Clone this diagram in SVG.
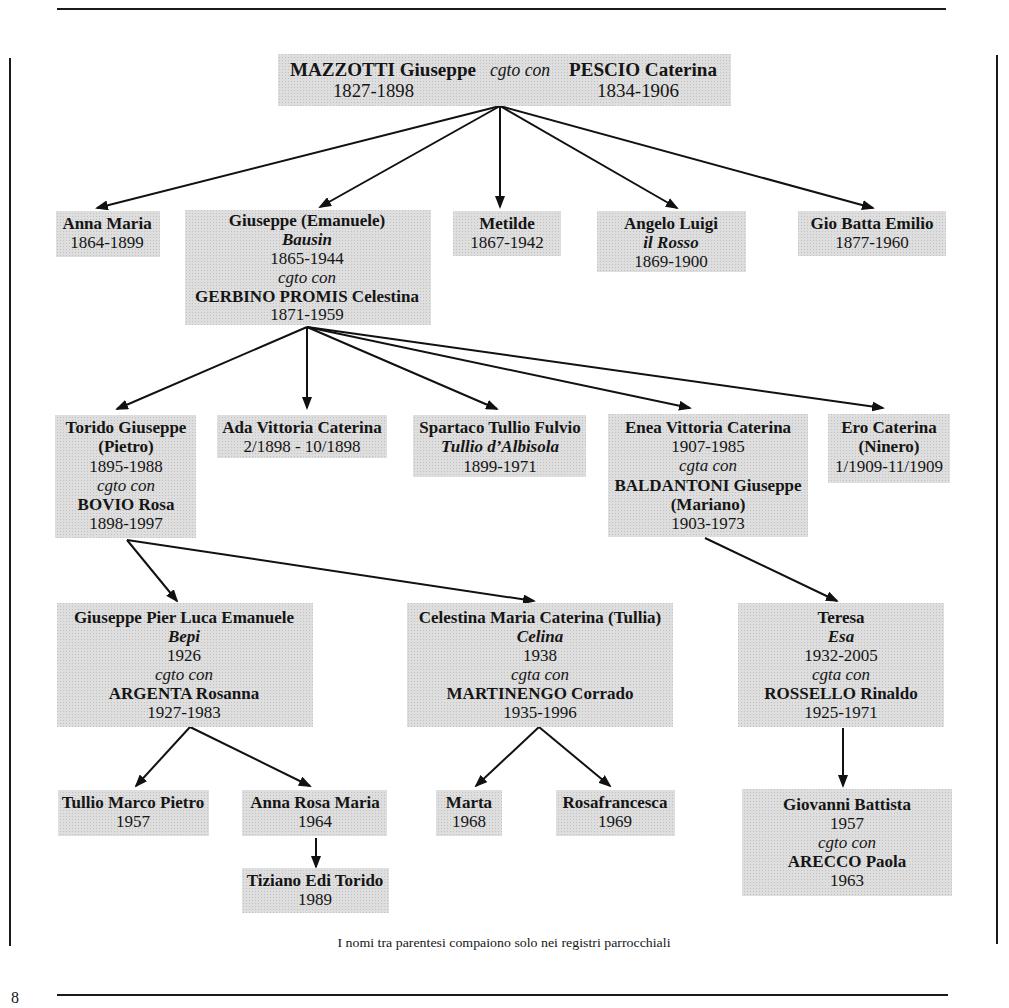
<svg xmlns="http://www.w3.org/2000/svg" width="1009" height="1008" viewBox="0 0 1009 1008">
<defs>
<pattern id="screen" width="3" height="3" patternUnits="userSpaceOnUse">
<rect width="3" height="3" fill="#dedede"/>
<rect width="1" height="1" fill="#c2c2c2"/>
</pattern>
<marker id="ah" markerUnits="userSpaceOnUse" markerWidth="13" markerHeight="10" refX="11" refY="5" orient="auto">
<path d="M0,0 L13,5 L0,10 Z" fill="#111"/>
</marker>
</defs>
<style>
.box{fill:url(#screen)}
text{font-family:"Liberation Serif","Times New Roman",serif;font-size:17px;fill:#151515;text-anchor:middle}
.b{font-weight:bold}
.i{font-style:italic}
.bi{font-weight:bold;font-style:italic}
.edge{stroke:#111;stroke-width:2;fill:none;marker-end:url(#ah)}
.rule{stroke:#1a1a1a;fill:none}
.title{font-size:18px;text-anchor:start}
</style>
<rect width="1009" height="1008" fill="#ffffff"/>
<g id="frame">
<line class="rule" x1="57" y1="9" x2="946" y2="9" stroke-width="2"/>
<line class="rule" x1="57" y1="995" x2="948" y2="995" stroke-width="2"/>
<line class="rule" x1="10" y1="58" x2="10" y2="946" stroke-width="2"/>
<line class="rule" x1="997" y1="55" x2="997" y2="944" stroke-width="2"/>
<text x="15" y="1003" style="font-size:16px">8</text>
<text x="504" y="947" style="font-size:12.5px" textLength="333" lengthAdjust="spacingAndGlyphs">I nomi tra parentesi compaiono solo nei registri parrocchiali</text>
</g>
<g id="connectors">
<line class="edge" x1="500" y1="106" x2="97" y2="208"/>
<line class="edge" x1="500" y1="106" x2="320" y2="207"/>
<line class="edge" x1="500" y1="106" x2="500" y2="207"/>
<line class="edge" x1="500" y1="106" x2="677" y2="208"/>
<line class="edge" x1="500" y1="106" x2="873" y2="208"/>
<line class="edge" x1="307" y1="327" x2="117" y2="409"/>
<line class="edge" x1="307" y1="327" x2="307" y2="408"/>
<line class="edge" x1="307" y1="327" x2="497" y2="409"/>
<line class="edge" x1="307" y1="327" x2="690" y2="408"/>
<line class="edge" x1="307" y1="327" x2="883" y2="408"/>
<line class="edge" x1="127" y1="540" x2="177" y2="601"/>
<line class="edge" x1="127" y1="540" x2="534" y2="601"/>
<line class="edge" x1="705" y1="538" x2="837" y2="601"/>
<line class="edge" x1="190" y1="727" x2="136" y2="786"/>
<line class="edge" x1="190" y1="727" x2="310" y2="786"/>
<line class="edge" x1="539" y1="727" x2="476" y2="786"/>
<line class="edge" x1="539" y1="727" x2="610" y2="786"/>
<line class="edge" x1="843" y1="728" x2="843" y2="786"/>
<line class="edge" x1="316" y1="838" x2="316" y2="867"/>
</g>
<g id="n-mazzotti">
<rect class="box" x="278" y="54" width="453" height="52"/>
<text class="b title" x="290" y="76" textLength="186" lengthAdjust="spacingAndGlyphs">MAZZOTTI Giuseppe</text>
<text class="i title" x="490" y="76" textLength="60" lengthAdjust="spacingAndGlyphs">cgto con</text>
<text class="b title" x="569" y="76" textLength="148" lengthAdjust="spacingAndGlyphs">PESCIO Caterina</text>
<text class="title" x="333" y="97" textLength="81" lengthAdjust="spacingAndGlyphs">1827-1898</text>
<text class="title" x="597" y="97" textLength="82" lengthAdjust="spacingAndGlyphs">1834-1906</text>
</g>
<g id="n-anna-maria">
<rect class="box" x="56" y="211" width="104" height="46"/>
<text class="b" x="107" y="229">Anna Maria</text>
<text x="107" y="248">1864-1899</text>
</g>
<g id="n-giuseppe-emanuele">
<rect class="box" x="185" y="210" width="246" height="115"/>
<text class="b" x="307" y="226">Giuseppe (Emanuele)</text>
<text class="bi" x="307" y="245">Bausin</text>
<text x="307" y="264">1865-1944</text>
<text class="i" x="307" y="283">cgto con</text>
<text class="b" x="307" y="302">GERBINO PROMIS Celestina</text>
<text x="307" y="320">1871-1959</text>
</g>
<g id="n-metilde">
<rect class="box" x="453" y="211" width="108" height="45"/>
<text class="b" x="507" y="229">Metilde</text>
<text x="507" y="248">1867-1942</text>
</g>
<g id="n-angelo-luigi">
<rect class="box" x="597" y="211" width="149" height="61"/>
<text class="b" x="671" y="229">Angelo Luigi</text>
<text class="bi" x="671" y="248">il Rosso</text>
<text x="671" y="267">1869-1900</text>
</g>
<g id="n-gio-batta">
<rect class="box" x="798" y="211" width="148" height="45"/>
<text class="b" x="872" y="229">Gio Batta Emilio</text>
<text x="872" y="248">1877-1960</text>
</g>
<g id="n-torido">
<rect class="box" x="55" y="415" width="141" height="123"/>
<text class="b" x="126" y="433">Torido Giuseppe</text>
<text class="b" x="126" y="452">(Pietro)</text>
<text x="126" y="472">1895-1988</text>
<text class="i" x="126" y="491">cgto con</text>
<text class="b" x="126" y="510">BOVIO Rosa</text>
<text x="126" y="529">1898-1997</text>
</g>
<g id="n-ada">
<rect class="box" x="217" y="415" width="170" height="43"/>
<text class="b" x="302" y="433">Ada Vittoria Caterina</text>
<text x="302" y="452">2/1898 - 10/1898</text>
</g>
<g id="n-spartaco">
<rect class="box" x="413" y="415" width="173" height="62"/>
<text class="b" x="500" y="433">Spartaco Tullio Fulvio</text>
<text class="bi" x="500" y="452">Tullio d’Albisola</text>
<text x="500" y="472">1899-1971</text>
</g>
<g id="n-enea">
<rect class="box" x="608" y="414" width="200" height="123"/>
<text class="b" x="708" y="433">Enea Vittoria Caterina</text>
<text x="708" y="452">1907-1985</text>
<text class="i" x="708" y="471">cgta con</text>
<text class="b" x="708" y="491">BALDANTONI Giuseppe</text>
<text class="b" x="708" y="510">(Mariano)</text>
<text x="708" y="529">1903-1973</text>
</g>
<g id="n-ero">
<rect class="box" x="828" y="414" width="122" height="69"/>
<text class="b" x="889" y="433">Ero Caterina</text>
<text class="b" x="889" y="452">(Ninero)</text>
<text x="889" y="472">1/1909-11/1909</text>
</g>
<g id="n-giuseppe-pier-luca">
<rect class="box" x="57" y="603" width="256" height="124"/>
<text class="b" x="184" y="623">Giuseppe Pier Luca Emanuele</text>
<text class="bi" x="184" y="642">Bepi</text>
<text x="184" y="661">1926</text>
<text class="i" x="184" y="680">cgto con</text>
<text class="b" x="184" y="699">ARGENTA Rosanna</text>
<text x="184" y="718">1927-1983</text>
</g>
<g id="n-celestina">
<rect class="box" x="407" y="603" width="266" height="124"/>
<text class="b" x="540" y="623">Celestina Maria Caterina (Tullia)</text>
<text class="bi" x="540" y="642">Celina</text>
<text x="540" y="661">1938</text>
<text class="i" x="540" y="680">cgta con</text>
<text class="b" x="540" y="699">MARTINENGO Corrado</text>
<text x="540" y="718">1935-1996</text>
</g>
<g id="n-teresa">
<rect class="box" x="738" y="603" width="206" height="124"/>
<text class="b" x="841" y="623">Teresa</text>
<text class="bi" x="841" y="642">Esa</text>
<text x="841" y="661">1932-2005</text>
<text class="i" x="841" y="680">cgta con</text>
<text class="b" x="841" y="699">ROSSELLO Rinaldo</text>
<text x="841" y="718">1925-1971</text>
</g>
<g id="n-tullio-marco">
<rect class="box" x="58" y="790" width="151" height="46"/>
<text class="b" x="133" y="808">Tullio Marco Pietro</text>
<text x="133" y="827">1957</text>
</g>
<g id="n-anna-rosa">
<rect class="box" x="242" y="790" width="145" height="46"/>
<text class="b" x="315" y="808">Anna Rosa Maria</text>
<text x="315" y="827">1964</text>
</g>
<g id="n-marta">
<rect class="box" x="436" y="790" width="66" height="46"/>
<text class="b" x="469" y="808">Marta</text>
<text x="469" y="827">1968</text>
</g>
<g id="n-rosafrancesca">
<rect class="box" x="556" y="790" width="119" height="46"/>
<text class="b" x="615" y="808">Rosafrancesca</text>
<text x="615" y="827">1969</text>
</g>
<g id="n-giovanni">
<rect class="box" x="742" y="789" width="210" height="107"/>
<text class="b" x="847" y="810">Giovanni Battista</text>
<text x="847" y="829">1957</text>
<text class="i" x="847" y="848">cgto con</text>
<text class="b" x="847" y="867">ARECCO Paola</text>
<text x="847" y="886">1963</text>
</g>
<g id="n-tiziano">
<rect class="box" x="242" y="868" width="147" height="45"/>
<text class="b" x="315" y="886">Tiziano Edi Torido</text>
<text x="315" y="905">1989</text>
</g>
</svg>
